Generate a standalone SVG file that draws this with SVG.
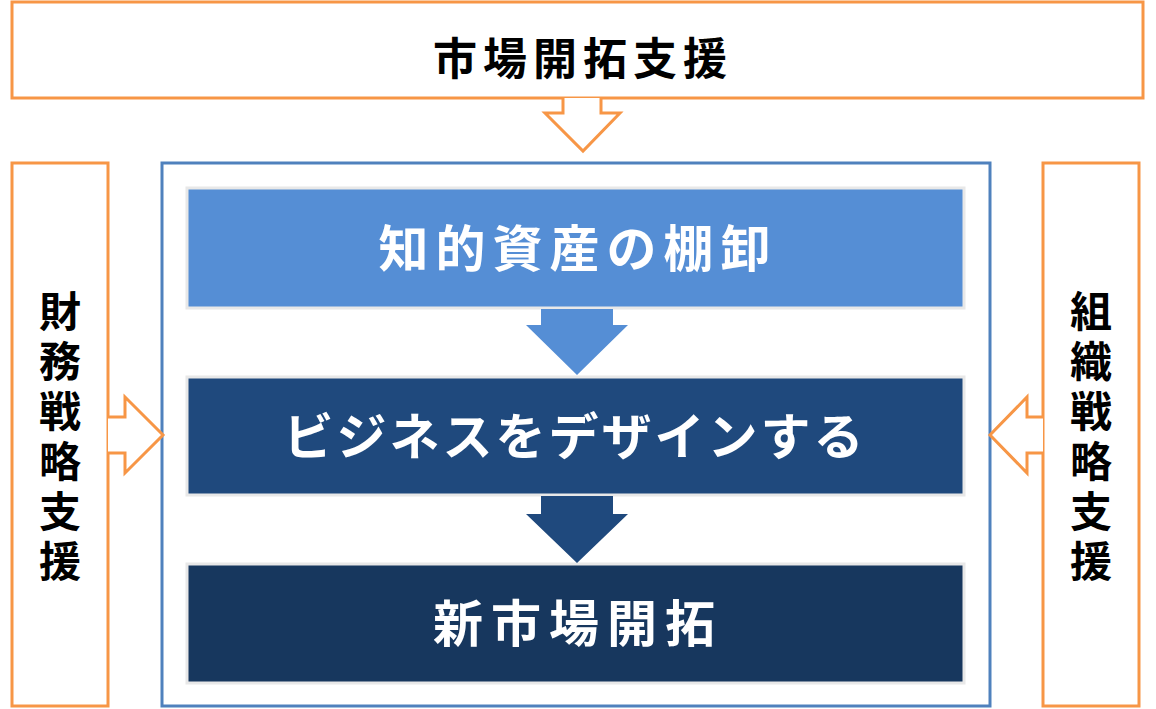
<svg xmlns="http://www.w3.org/2000/svg" width="1156" height="709" viewBox="0 0 1156 709">
<style>
.o{fill:#fff;stroke:#F79646;stroke-width:3}
.t{font-family:"Noto Sans CJK JP",sans-serif;font-weight:bold;font-size:44px;text-anchor:middle}
.v{font-size:42px}
.b{font-size:50px;fill:#fff}
</style>
<rect width="1156" height="709" fill="#fff"/>
<g id="top"><rect class="o" x="12" y="2" width="1131" height="96"/><text class="t" x="583" y="75" letter-spacing="6">市場開拓支援</text></g>
<g id="left"><rect class="o" x="12" y="163" width="96" height="543"/><text class="t v"><tspan x="60" y="327">財</tspan><tspan x="60" y="377">務</tspan><tspan x="60" y="427">戦</tspan><tspan x="60" y="477">略</tspan><tspan x="60" y="527">支</tspan><tspan x="60" y="577">援</tspan></text></g>
<g id="right"><rect class="o" x="1043" y="163" width="96" height="543"/><text class="t v"><tspan x="1091" y="327">組</tspan><tspan x="1091" y="377">織</tspan><tspan x="1091" y="427">戦</tspan><tspan x="1091" y="477">略</tspan><tspan x="1091" y="527">支</tspan><tspan x="1091" y="577">援</tspan></text></g>
<g id="main"><rect x="162" y="163" width="828" height="543" fill="#fff" stroke="#4F81BD" stroke-width="3"/></g>
<g id="n1"><rect x="187" y="188" width="777" height="120" fill="#558ED5" stroke="#e8e8e8" stroke-width="3"/><text class="t b" x="578" y="267" letter-spacing="7">知的資産の棚卸</text></g>
<g id="n2"><rect x="187" y="377" width="777" height="118" fill="#1F497D" stroke="#e8e8e8" stroke-width="3"/><text class="t b" x="575" y="455" letter-spacing="3">ビジネスをデザインする</text></g>
<g id="n3"><rect x="187" y="564" width="777" height="119" fill="#17375E" stroke="#e8e8e8" stroke-width="3"/><text class="t b" x="578" y="642" letter-spacing="8">新市場開拓</text></g>
<g id="connectors">
<path class="o" d="M563 98V113H545L583 151L620 113H601V98"/>
<path class="o" d="M108 417H125V397L163 435L125 473V453H108"/>
<path class="o" d="M1043 417H1027V397L990 435L1027 473V453H1043"/>
<path d="M541 309V325H526L577 375L628 325H613V309Z" fill="#558ED5"/>
<path d="M541 496V514H526L577 563L628 514H613V496Z" fill="#1F497D"/>
</g>
</svg>
